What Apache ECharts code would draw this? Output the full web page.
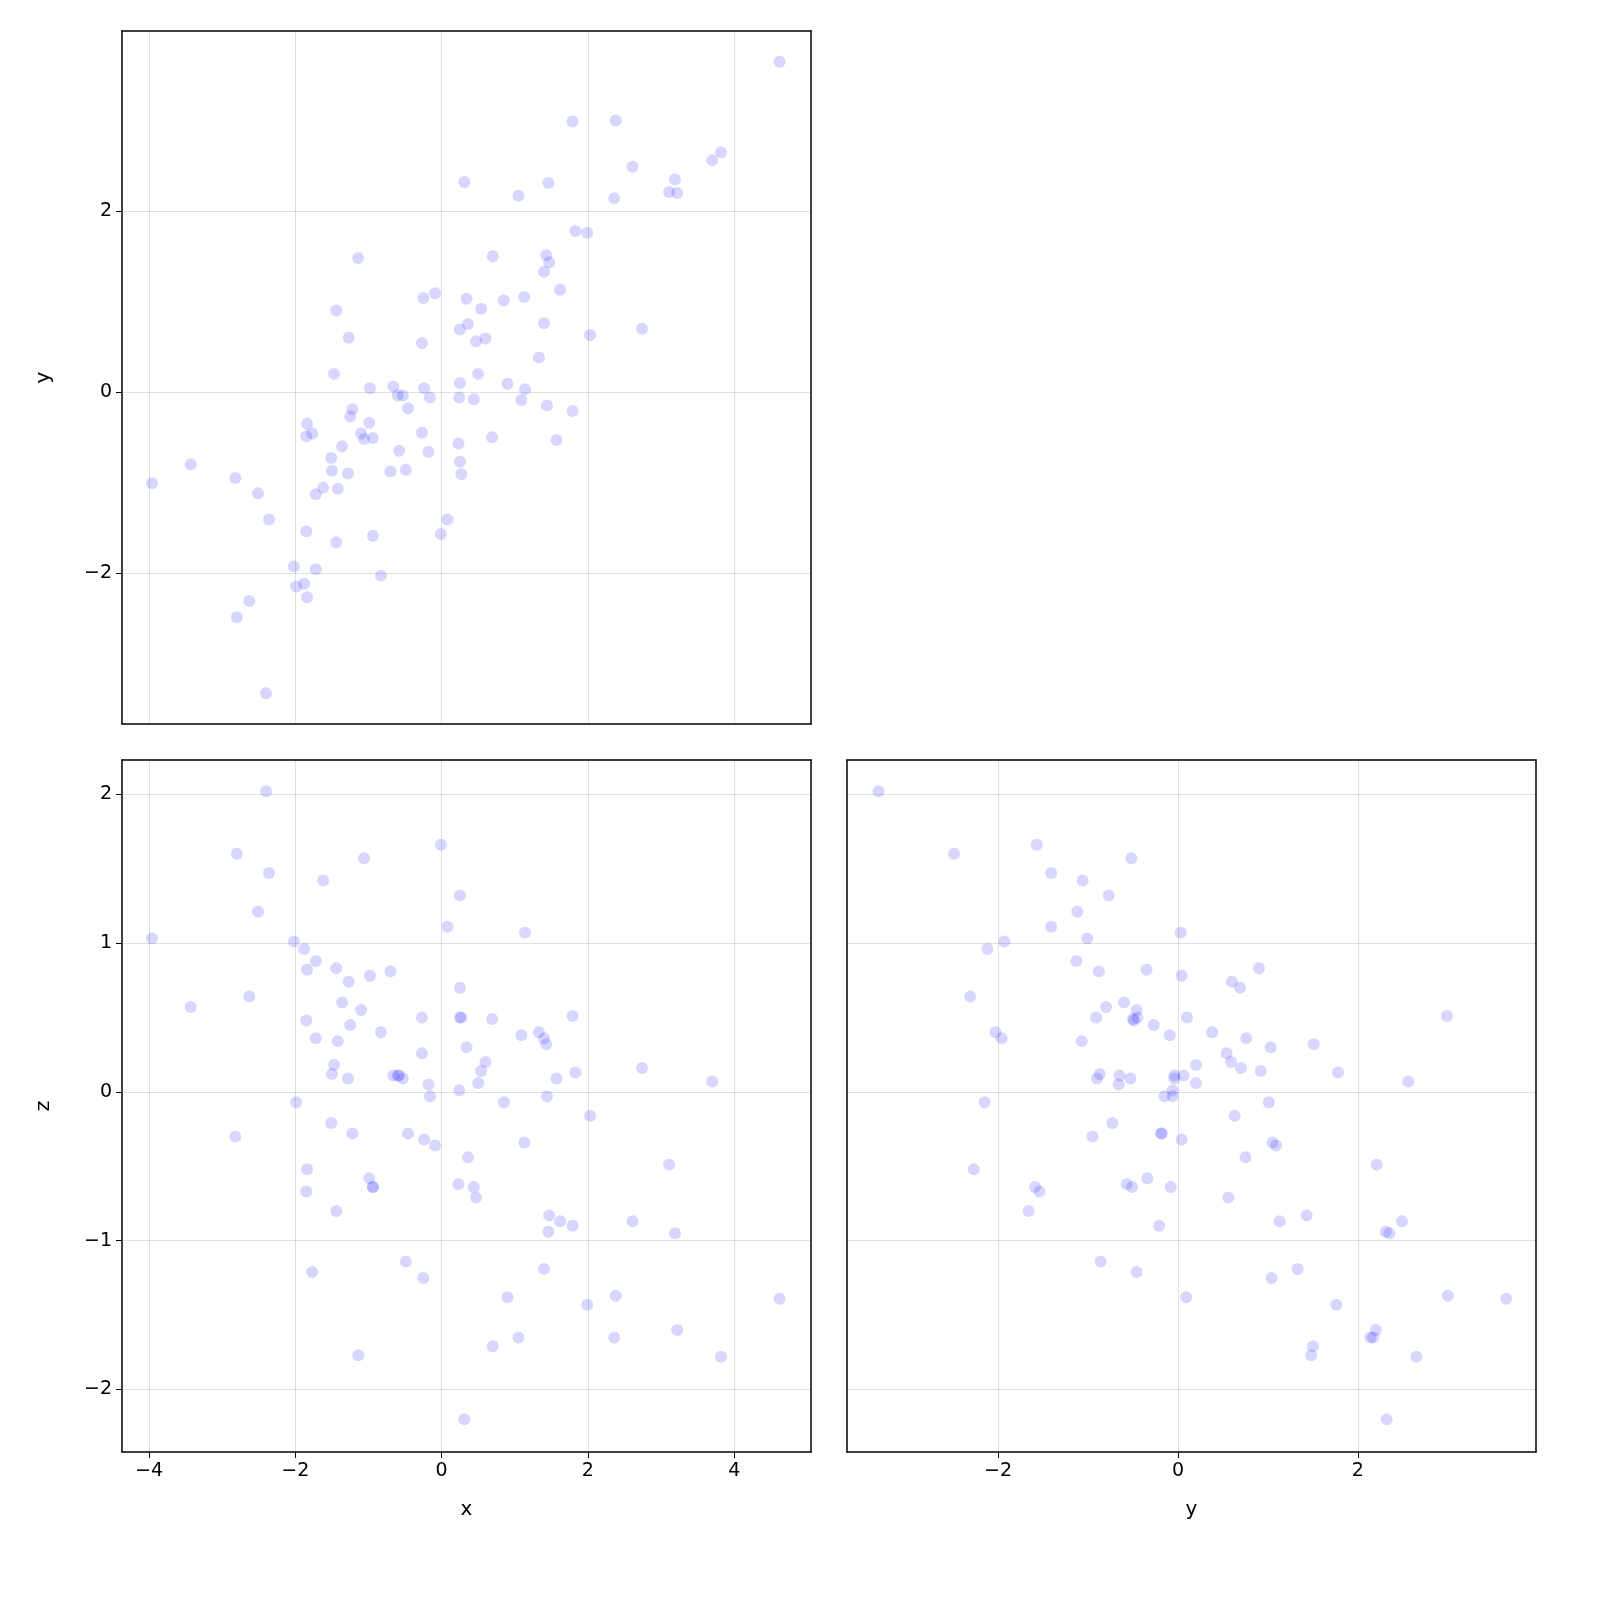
<!DOCTYPE html>
<html><head><meta charset="utf-8">
<script src="https://cdn.jsdelivr.net/npm/echarts@6/dist/echarts.min.js"></script>
<style>html,body{margin:0;padding:0;background:#fff;overflow:hidden}#c{width:1600px;height:1600px}</style>
</head><body><div id="c"></div>
<script>
const xs=[4.62,1.79,2.38,0.31,1.46,1.05,2.36,2.61,3.70,3.82,3.19,3.11,3.22,-1.14,0.70,1.43,1.47,1.83,1.99,1.62,1.40,1.13,-1.44,-0.25,-0.09,0.34,0.54,0.85,-1.27,0.25,0.36,0.47,0.60,2.03,2.74,1.40,-0.27,1.33,-1.47,-0.98,-0.66,-0.24,0.25,0.90,1.14,0.50,-0.60,-0.53,-0.16,0.24,0.44,1.09,1.44,1.79,-1.22,-1.25,-0.46,-0.99,-1.84,-1.77,-1.85,-1.10,-1.06,-0.27,0.69,1.57,-0.94,-1.36,0.23,-0.58,-0.18,-1.51,0.25,-1.50,-1.28,-0.70,-0.49,0.27,-3.96,-3.43,-2.82,-2.51,-1.72,-1.62,-1.42,-2.36,0.08,-1.85,-0.01,-1.44,-0.94,-2.02,-1.72,-0.83,-1.99,-1.88,-1.84,-2.63,-2.80,-2.40];
const ys=[3.65,2.99,3.00,2.32,2.31,2.17,2.14,2.49,2.56,2.65,2.35,2.21,2.20,1.48,1.50,1.51,1.43,1.78,1.76,1.13,1.33,1.05,0.90,1.04,1.09,1.03,0.92,1.01,0.60,0.69,0.75,0.56,0.59,0.63,0.70,0.76,0.54,0.38,0.20,0.04,0.06,0.04,0.10,0.09,0.03,0.20,-0.04,-0.04,-0.06,-0.06,-0.08,-0.09,-0.15,-0.21,-0.19,-0.27,-0.18,-0.34,-0.35,-0.46,-0.49,-0.46,-0.52,-0.45,-0.50,-0.53,-0.51,-0.60,-0.57,-0.65,-0.66,-0.73,-0.77,-0.87,-0.90,-0.88,-0.86,-0.91,-1.01,-0.80,-0.95,-1.12,-1.13,-1.06,-1.07,-1.41,-1.41,-1.54,-1.57,-1.66,-1.59,-1.93,-1.96,-2.03,-2.15,-2.12,-2.27,-2.31,-2.49,-3.33];
const zs=[-1.39,0.51,-1.37,-2.20,-0.94,-1.65,-1.65,-0.87,0.07,-1.78,-0.95,-0.49,-1.60,-1.77,-1.71,0.32,-0.83,0.13,-1.43,-0.87,-1.19,-0.34,0.83,-1.25,-0.36,0.30,0.14,-0.07,0.74,0.70,-0.44,-0.71,0.20,-0.16,0.16,0.36,0.26,0.40,0.18,0.78,0.11,-0.32,0.50,-1.38,1.07,0.06,0.11,0.09,-0.03,0.01,-0.64,0.38,-0.03,-0.90,-0.28,0.45,-0.28,-0.58,0.82,-1.21,0.48,0.55,1.57,0.50,0.49,0.09,-0.64,0.60,-0.62,0.11,0.05,-0.21,1.32,0.12,0.09,0.81,-1.14,0.50,1.03,0.57,-0.30,1.21,0.88,1.42,0.34,1.47,1.11,-0.67,1.66,-0.80,-0.64,1.01,0.36,0.40,-0.07,0.96,-0.52,0.64,1.60,2.02];
const xTicks=[-4,-2,0,2,4], yTicks=[-2,0,2], zTicks=[-2,-1,0,1,2];
const font='DejaVu Sans';
function ax(min,max,ticks,show,name,pos){
  return {type:'value',min:min,max:max,position:pos,name:show?name:'',nameLocation:'middle',nameGap:pos==='left'?68:48,
    nameTextStyle:{fontSize:20,color:'#000',fontFamily:font},
    axisLine:{show:true,onZero:false,lineStyle:{color:'#000',width:1.5}},
    axisTick:{show:show,customValues:ticks,length:6,inside:false,lineStyle:{color:'#000'}},
    axisLabel:{show:show,customValues:ticks,fontSize:19,color:'#000',fontFamily:font,margin:10,formatter:v=>String(v).replace('-','\u2212')},
    splitLine:{show:true,customValues:ticks,lineStyle:{color:'rgba(0,0,0,0.12)'}}};
}
const pair=(a,b)=>a.map((v,i)=>[v,b[i]]);
const sty={color:'rgba(0,0,255,0.2)'};
const xr=[[-4.37,5.05],[-4.37,5.05],[-3.68,3.98]], yr=[[-3.67,3.99],[-2.42,2.23],[-2.42,2.23]];
const opt={animation:false,
 grid:[{left:122,width:689,top:31,height:693},{left:122,width:689,top:760,height:692},{left:847,width:689,top:760,height:692}],
 xAxis:[ax(-4.37,5.05,xTicks,false,'x','bottom'),ax(-4.37,5.05,xTicks,true,'x','bottom'),ax(-3.68,3.98,yTicks,true,'y','bottom')].map((a,i)=>Object.assign(a,{gridIndex:i})),
 yAxis:[ax(-3.67,3.99,yTicks,true,'y','left'),ax(-2.42,2.23,zTicks,true,'z','left'),ax(-2.42,2.23,zTicks,false,'z','left')].map((a,i)=>Object.assign(a,{gridIndex:i})),
 series:[
  {type:'scatter',xAxisIndex:0,yAxisIndex:0,data:pair(xs,ys),symbolSize:12,itemStyle:sty},
  {type:'scatter',xAxisIndex:1,yAxisIndex:1,data:pair(xs,zs),symbolSize:12,itemStyle:sty},
  {type:'scatter',xAxisIndex:2,yAxisIndex:2,data:pair(ys,zs),symbolSize:12,itemStyle:sty}]
};
const frame=(i,pos,r)=>({gridIndex:i,type:'value',min:r[0],max:r[1],position:pos,axisLine:{show:true,onZero:false,lineStyle:{color:'#000',width:1.5}},axisTick:{show:false},axisLabel:{show:false},splitLine:{show:false}});
opt.xAxis.push(...[0,1,2].map(i=>frame(i,'top',xr[i])));
opt.yAxis.push(...[0,1,2].map(i=>frame(i,'right',yr[i])));
echarts.init(document.getElementById('c')).setOption(opt);
</script></body></html>
